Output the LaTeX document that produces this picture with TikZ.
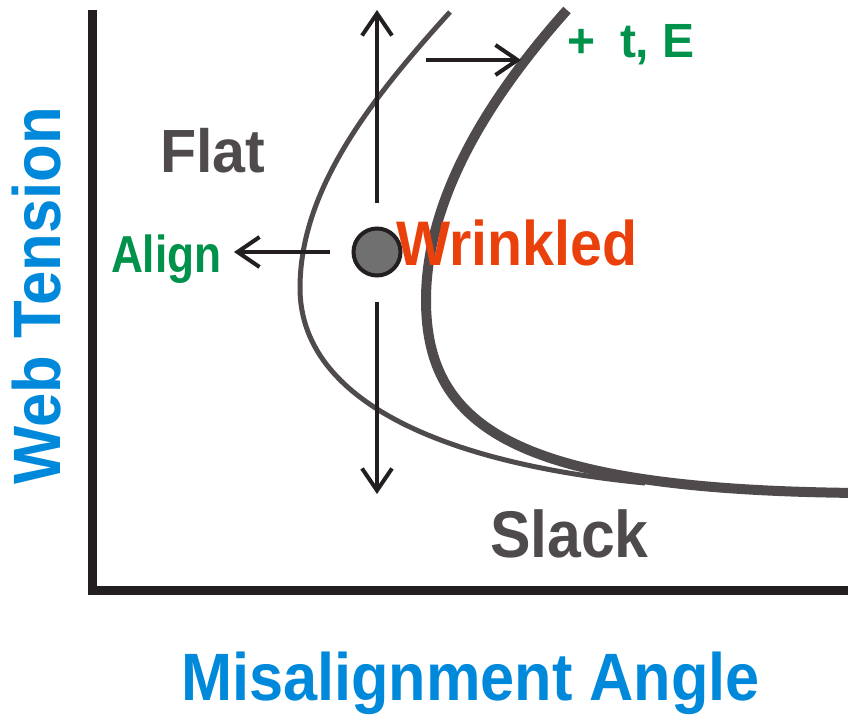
\documentclass[tikz,border=0pt]{standalone}
\usepackage{fontspec}
\setmainfont{Liberation Sans}
\usetikzlibrary{arrows.meta}
\definecolor{axisk}{HTML}{231F20}
\definecolor{curveg}{HTML}{4F4B4C}
\definecolor{txtgray}{HTML}{4F4B4C}
\definecolor{dotgray}{HTML}{717070}
\definecolor{wred}{HTML}{EA410C}
\definecolor{agreen}{HTML}{00914A}
\definecolor{lblue}{HTML}{0089DB}
\begin{document}
\begin{tikzpicture}[x=1pt,y=-1pt,
  lbl/.style={inner sep=0pt, outer sep=0pt, anchor=base west},
  arr/.style={draw=axisk, line width=4pt, -{Straight Barb[length=22pt,width=30pt,line width=4pt]}},
  axisline/.style={draw=axisk, line width=9pt},
  thincurve/.style={draw=curveg, line width=5pt},
  thickcurve/.style={draw=curveg, line width=10pt}]
\useasboundingbox (0,0) rectangle (848,717);
% axes
\coordinate (ytop) at (92,10);
\coordinate (orig) at (92,590);
\coordinate (xend) at (860,590);
\draw[axisline] (ytop) -- (orig) -- (xend);
% curves
\coordinate (thinTop) at (450,12);
\coordinate (thinLeft) at (300,288);
\coordinate (thinEnd) at (645,483);
\draw[thincurve] (thinTop) .. controls (370,100) and (300,190) .. (thinLeft)
                 .. controls (300,395) and (430,462) .. (thinEnd);
\coordinate (thickTop) at (567,10);
\coordinate (thickLeft) at (426,300);
\coordinate (thickEnd) at (860,493);
\draw[thickcurve] (thickTop) .. controls (500,85) and (426,190) .. (thickLeft)
                  .. controls (426,430) and (520,490) .. (thickEnd);
% dot
\node[circle, draw=axisk, fill=dotgray, line width=4pt, minimum size=47pt, inner sep=0pt] (dot) at (377,252) {};
% arrow ends
\coordinate (upS) at (377,203);
\coordinate (upE) at (377,10);
\coordinate (dnS) at (377,302);
\coordinate (dnE) at (377,494);
\coordinate (rtS) at (426,60);
\coordinate (rtE) at (521,60);
\coordinate (lfS) at (330,252);
\coordinate (lfE) at (234,252);
\draw[arr] (upS) -- (upE);
\draw[arr] (dnS) -- (dnE);
\draw[arr] (rtS) -- (rtE);
\draw[arr] (lfS) -- (lfE);
% labels
\node[lbl, text=txtgray, font=\bfseries\fontsize{61}{70}\selectfont] (flat) at (160,172) {\scalebox{0.97}[1]{Flat}};
\node[lbl, text=wred, font=\bfseries\fontsize{63}{72}\selectfont] (wrinkled) at (396,265) {\scalebox{0.91}[1]{Wrinkled}};
\node[lbl, text=agreen, font=\bfseries\fontsize{52}{60}\selectfont] (align) at (111,272) {\scalebox{0.85}[1]{Align}};
\node[lbl, text=agreen, font=\bfseries\fontsize{48}{56}\selectfont] (te) at (567,58) {+\hspace{25pt}t, E};
\node[lbl, text=txtgray, font=\bfseries\fontsize{66}{76}\selectfont] (slack) at (490,557) {\scalebox{0.92}[1]{Slack}};
\node[inner sep=0pt, anchor=base, rotate=90, text=lblue, font=\bfseries\fontsize{67}{77}\selectfont] (ylab) at (60,296) {\scalebox{0.92}[1]{Web Tension}};
\node[lbl, text=lblue, font=\bfseries\fontsize{67}{77}\selectfont] (xlab) at (181,700) {\scalebox{0.915}[1]{Misalignment Angle}};
\end{tikzpicture}
\end{document}
